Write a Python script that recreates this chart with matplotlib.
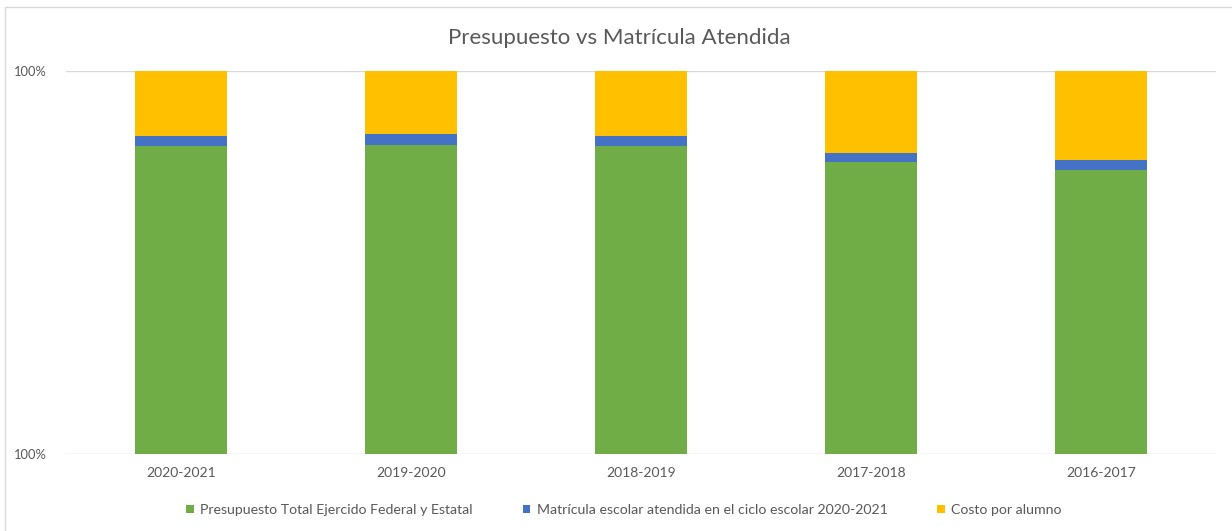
import matplotlib
matplotlib.use("Agg")
import matplotlib.pyplot as plt
from matplotlib.patches import Rectangle
import numpy as np

categories = ["2020-2021", "2019-2020", "2018-2019", "2017-2018", "2016-2017"]
presupuesto = [0.804, 0.808, 0.805, 0.763, 0.741]
matricula = [0.026, 0.027, 0.025, 0.022, 0.026]
costo = [0.170, 0.165, 0.170, 0.215, 0.233]
series_names = ["Presupuesto Total Ejercido Federal y Estatal",
                "Matrícula escolar atendida en el ciclo escolar 2020-2021",
                "Costo por alumno"]
ytick_labels = ["100%", "100%"]

colors = ["#70AD47", "#4472C4", "#FFC000"]
txt = "#595959"
plt.rcParams['font.family'] = ['Lato', 'DejaVu Sans']

W, H = 1232, 531
fig = plt.figure(figsize=(W/100, H/100), dpi=100)
ax = fig.add_axes([66/W, 1-454.3/H, (1216-66)/W, (454.3-71)/H])

x = np.arange(len(categories))
bw = 0.396
b1 = ax.bar(x, presupuesto, bw, color=colors[0], label=series_names[0], zorder=2)
b2 = ax.bar(x, matricula, bw, bottom=presupuesto, color=colors[1], label=series_names[1], zorder=2)
bottom3 = np.array(presupuesto) + np.array(matricula)
b3 = ax.bar(x, costo, bw, bottom=bottom3, color=colors[2], label=series_names[2], zorder=2)

ax.set_xlim(-0.5, len(categories) - 0.5)
ax.set_ylim(0, 1)
ax.set_yticks([0, 1])
ax.set_yticklabels(ytick_labels)
ax.set_xticks(x)
ax.set_xticklabels(categories)
for s in ax.spines.values():
    s.set_visible(False)
ax.tick_params(axis='both', length=0, colors=txt, labelsize=10)
ax.tick_params(axis='y', pad=14, labelsize=9.3)
ax.tick_params(axis='x', pad=9)
ax.yaxis.grid(True, color="#D9D9D9", linewidth=1, zorder=0)
ax.set_axisbelow(True)

fig.text(619/W, 1-38/H, "Presupuesto vs Matrícula Atendida", ha='center', va='center',
         fontsize=16, color=txt)

fig.legend(handles=[b1, b2, b3], labels=series_names, loc='center', ncol=3,
           bbox_to_anchor=(624/W, 1-510/H), frameon=False, fontsize=10.2,
           labelcolor=txt, handlelength=0.55, handleheight=0.55, handletextpad=0.45,
           columnspacing=3.5)

fig.patches.append(Rectangle((5/W, -0.1), 1.2, 1-7/H+0.1, transform=fig.transFigure,
                             fill=False, edgecolor="#D9D9D9", linewidth=1))

fig.savefig("out.png", dpi=100, facecolor="white")
